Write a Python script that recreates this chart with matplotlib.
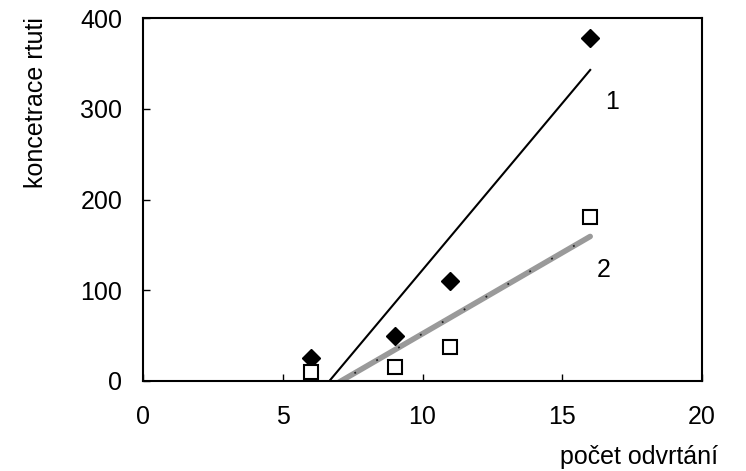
import matplotlib
matplotlib.use("Agg")
import matplotlib.pyplot as plt
import numpy as np

plt.rcParams['font.family'] = ['Liberation Sans', 'DejaVu Sans']

x_vals = [6, 9, 11, 16]
series1 = [25, 50, 110, 378]
series2 = [10, 15, 38, 181]
x_ticks = [0, 5, 10, 15, 20]
y_ticks = [0, 100, 200, 300, 400]

fig = plt.figure(figsize=(7.46, 4.71), dpi=100)
ax = fig.add_axes([143/746, 1-381/471, (702-143)/746, (381-18)/471])

xs = np.array(x_vals, dtype=float)

# trend lines (least squares)
xl = np.array([min(x_vals), max(x_vals)], dtype=float)
k1, q1 = np.polyfit(xs, np.array(series1, float), 1)
k2, q2 = np.polyfit(xs, np.array(series2, float), 1)
ax.plot(xl, k1*xl+q1, color='black', lw=1.5, zorder=2)
ax.plot(xl, k2*xl+q2, color='#9a9a9a', lw=4, solid_capstyle='round', zorder=2)
ax.plot(xl, k2*xl+q2, color='#222222', lw=1.3, ls=(0, (1, 13)), zorder=3)

ax.plot(x_vals, series1, ls='none', marker='D', ms=9.5, color='black', zorder=4)
ax.plot(x_vals, series2, ls='none', marker='s', ms=10, mfc='white', mec='black', mew=1.5, zorder=4)

ax.text(16.8, 307, '1', fontsize=18, ha='center', va='center')
ax.text(16.5, 122, '2', fontsize=18, ha='center', va='center')

ax.set_xlim(0, 20)
ax.set_ylim(0, 400)
ax.set_xticks(x_ticks)
ax.set_yticks(y_ticks)
ax.tick_params(direction='in', length=5, width=1, labelsize=18)
ax.tick_params(axis='y', pad=15)
ax.tick_params(axis='x', pad=17)
for s in ax.spines.values():
    s.set_linewidth(1.5)

fig.text(36/746, 1-103/471, 'koncetrace rtuti', rotation=90, fontsize=18, ha='center', va='center')
fig.text(639/746, 1-457/471, 'počet odvrtání', fontsize=18, ha='center', va='center')

fig.savefig('out.png', dpi=100)
